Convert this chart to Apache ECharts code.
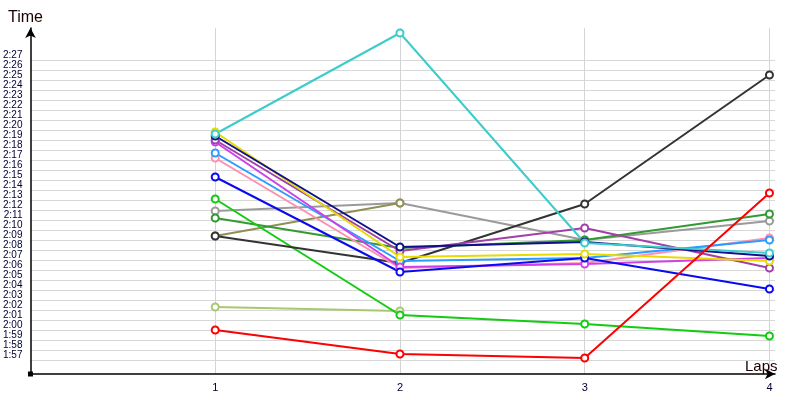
<!DOCTYPE html>
<html>
<head>
<meta charset="utf-8">
<script src="https://cdn.jsdelivr.net/npm/echarts@6/dist/echarts.min.js"></script>
<style>html,body{margin:0;padding:0;background:#fff}#chart{width:800px;height:400px}</style>
</head>
<body>
<div id="chart"></div>
<script>
// ---- data (lap times, m:ss.s) ----
const laps = [1, 2, 3, 4];
const yTickSeconds = [117,118,119,120,121,122,123,124,125,126,127,128,129,130,131,132,133,134,135,136,137,138,139,140,141,142,143,144,145,146,147];
const turquoise  = ['2:19.6', '2:29.7', '2:08.7', '2:07.7'];
const yellow     = ['2:19.8', '2:07.3', '2:07.6', '2:06.9'];
const navy       = ['2:19.4', '2:08.3', '2:08.8', '2:07.4'];
const purple     = ['2:19.0', '2:07.9', '2:10.2', '2:06.2'];
const magenta    = ['2:18.8', '2:06.3', '2:06.6', '2:07.2'];
const dodger     = ['2:17.7', '2:06.9', '2:07.2', '2:09.0'];
const pink       = ['2:17.2', '2:06.2', '2:06.7', '2:09.2'];
const blue       = ['2:15.3', '2:05.8', '2:07.2', '2:04.1'];
const lime       = ['2:13.1', '2:01.5', '2:00.6', '1:59.4'];
const gray       = ['2:11.9', '2:12.7', '2:09.0', '2:10.9'];
const green      = ['2:11.2', '2:08.2', '2:09.0', '2:11.6'];
const olive      = ['2:09.4', '2:12.7'];
const black      = ['2:09.4', '2:06.7', '2:12.6', '2:25.5'];
const lightgreen = ['2:02.3', '2:01.9'];
const red        = ['2:00.0', '1:57.6', '1:57.2', '2:13.7'];

function toSec(s) { const p = s.split(':'); return Number(p[0]) * 60 + Number(p[1]); }
function fmt(v) { v = Math.round(v); const m = Math.floor(v / 60), s = v % 60; return m + ':' + (s < 10 ? '0' : '') + s; }

const seriesDefs = [
  ['gray', gray, '#9a9a9a'],
  ['olive', olive, '#8f8f55'],
  ['lightgreen', lightgreen, '#a8c870'],
  ['green', green, '#339933'],
  ['lime', lime, '#11cc11'],
  ['black', black, '#333333'],
  ['pink', pink, '#ff8fb0'],
  ['dodger', dodger, '#2a9cff'],
  ['magenta', magenta, '#d040e8'],
  ['purple', purple, '#a040a8'],
  ['blue', blue, '#0a0af0'],
  ['yellow', yellow, '#e6dc00'],
  ['navy', navy, '#10108a'],
  ['turquoise', turquoise, '#3ccccc'],
  ['red', red, '#ff0000']
];

const chart = echarts.init(document.getElementById('chart'), null, { renderer: 'canvas' });
const option = {
  animation: false,
  backgroundColor: '#fff',
  title: [
    { text: 'Time', left: 3, top: 5, textStyle: { fontFamily: 'Liberation Sans', fontSize: 16, fontWeight: 'normal', color: '#1a0000' } },
    { text: 'Laps', left: 740, top: 354, textStyle: { fontFamily: 'Liberation Sans', fontSize: 15, fontWeight: 'normal', color: '#1a0000' } }
  ],
  grid: { left: 30, right: 25, top: 28, bottom: 26 },
  xAxis: {
    type: 'value', min: 0, max: 4.03,
    axisLine: { show: true, onZero: false, symbol: ['none', 'arrow'], symbolSize: [8, 10], lineStyle: { color: '#000', width: 1.5 } },
    axisTick: { show: false, customValues: laps },
    axisLabel: { customValues: laps, margin: 8, fontFamily: 'Liberation Sans', fontSize: 11, color: '#000033' },
    splitLine: { show: true, lineStyle: { color: '#d4d4d4', width: 1 } }
  },
  yAxis: {
    type: 'value', min: 115.6, max: 150.2,
    axisLine: { show: true, onZero: false, symbol: ['none', 'arrow'], symbolSize: [8, 10], lineStyle: { color: '#000', width: 1.5 } },
    axisTick: { show: false, customValues: yTickSeconds },
    axisLabel: { customValues: yTickSeconds, formatter: fmt, margin: 8, fontFamily: 'Liberation Sans', fontSize: 10, color: '#000033', verticalAlign: 'bottom', lineHeight: 10 },
    splitLine: { show: true, lineStyle: { color: '#d8d8d8', width: 1 } }
  },
  series: seriesDefs.map(([name, arr, color]) => ({
    name: name,
    type: 'line',
    data: arr.map((t, i) => [laps[i], toSec(t)]),
    symbol: 'emptyCircle',
    symbolSize: 7,
    itemStyle: { color: color, borderWidth: 1.5 },
    lineStyle: { color: color, width: 2 },
    emphasis: { disabled: true }
  }))
};
chart.setOption(option);
const o = chart.convertToPixel({ gridIndex: 0 }, [0, 115.6]);
chart.setOption({ graphic: [{ type: 'rect', shape: { x: o[0] - 2.5, y: o[1] - 2.5, width: 5, height: 5 }, style: { fill: '#000' }, z: 100 }] });
</script>
</body>
</html>
